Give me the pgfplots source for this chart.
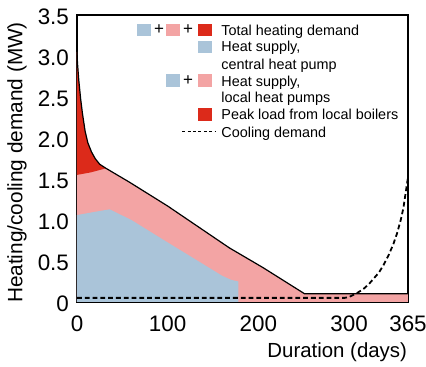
\documentclass[border=0pt]{standalone}
\usepackage{pgfplots}
\pgfplotsset{compat=1.18}
\usepackage{fontspec}
\setmainfont{Liberation Sans}
\usetikzlibrary{calc}
\definecolor{bluec}{RGB}{170,196,217}
\definecolor{pinkc}{RGB}{243,164,164}
\definecolor{redc}{RGB}{220,42,26}
\begin{document}
\begin{tikzpicture}
\begin{axis}[
  name=ax,
  scale only axis,
  width=165.5pt, height=143.5pt,
  xmin=0, xmax=365, ymin=0, ymax=3.5,
  axis line style={line width=0.6pt},
  xtick={0,100,200,300,365},
  xticklabels={0,100,200,300,365},
  ytick={0,0.5,1,1.5,2,2.5,3,3.5},
  yticklabels={0,0.5,1.0,1.5,2.0,2.5,3.0,3.5},
  major tick length=0pt,
  tick label style={font=\fontsize{11.2}{12}\selectfont},
  /pgf/number format/assume math mode=true,
  xticklabel style={yshift=-3.5pt},
  yticklabel style={xshift=-0.5pt, yshift=-0.8pt},
  ylabel={Heating/cooling demand (MW)},
  ylabel style={font=\fontsize{10.4}{12}\selectfont, at={(axis description cs:0,0.5)}, anchor=center, yshift=30pt, xshift=-2pt},
  xlabel={Duration (days)},
  xlabel style={font=\fontsize{10.2}{12}\selectfont, at={(axis description cs:1,0)}, anchor=north east, xshift=3pt, yshift=-17pt},
  clip=true,
]
% local heat pumps (pink) under total demand
\addplot[fill=pinkc, draw=none] coordinates {
(0,0)(0,3.05)(0.5,2.92)(2,2.7)(4,2.48)(6,2.3)(9,2.08)(12,1.94)(16,1.83)(20,1.75)(25,1.68)(32,1.63)(58,1.46)(100,1.17)(168,0.66)(205,0.42)(251,0.1)(365,0.1)(365,0)} -- cycle;
% peak load (red)
\addplot[fill=redc, draw=none] coordinates {
(0,1.55)(0,3.05)(0.5,2.92)(2,2.7)(4,2.48)(6,2.3)(9,2.08)(12,1.94)(16,1.83)(20,1.75)(25,1.68)(32,1.63)(15,1.58)} -- cycle;
% central heat pump (blue)
\addplot[fill=bluec, draw=none] coordinates {
(0,0)(0,1.06)(20,1.1)(36,1.13)(60,1.0)(95,0.76)(132,0.51)(160,0.32)(170,0.27)(178,0.25)(178,0)} -- cycle;
% total demand line
\addplot[black, line width=0.6pt] coordinates {
(0,3.05)(0.5,2.92)(2,2.7)(4,2.48)(6,2.3)(9,2.08)(12,1.94)(16,1.83)(20,1.75)(25,1.68)(32,1.63)(58,1.46)(100,1.17)(168,0.66)(205,0.42)(251,0.1)(365,0.1)};
% cooling demand
\addplot[black, line width=0.9pt, dash pattern=on 2.4pt off 1.5pt] coordinates {
(0,0.05)(295,0.05)(300,0.06)(309,0.11)(316,0.16)(322,0.22)(333,0.36)(338,0.45)(344,0.58)(349,0.71)(353,0.84)(357,1.0)(360,1.15)(362,1.3)(365,1.52)};

% legend
\tikzset{sw/.style={minimum width=6.8pt, minimum height=6.2pt, inner sep=0pt, anchor=east},
         lt/.style={anchor=base west, inner sep=0pt, font=\fontsize{7.2}{8}\selectfont},
         pl/.style={inner sep=0pt, font=\fontsize{8.5}{9}\selectfont}}
\node[lt] at (axis cs:158.8,3.256) {Total heating demand};
\node[lt] at (axis cs:158.8,3.049) {Heat supply,};
\node[lt] at (axis cs:158.8,2.841) {central heat pump};
\node[lt] at (axis cs:158.8,2.634) {Heat supply,};
\node[lt] at (axis cs:158.8,2.427) {local heat pumps};
\node[lt] at (axis cs:158.8,2.220) {Peak load from local boilers};
\node[lt] at (axis cs:158.8,2.012) {Cooling demand};
% row 1
\node[sw, fill=bluec] at (axis cs:81.6,3.32) {};
\node[pl] at (axis cs:90.4,3.32) {+};
\node[sw, fill=pinkc] at (axis cs:113.6,3.32) {};
\node[pl] at (axis cs:122.4,3.32) {+};
\node[sw, fill=redc] at (axis cs:148.9,3.32) {};
% row 2
\node[sw, fill=bluec] at (axis cs:148.9,3.11) {};
% row 4
\node[sw, fill=bluec] at (axis cs:113.6,2.70) {};
\node[pl] at (axis cs:122.4,2.70) {+};
\node[sw, fill=pinkc] at (axis cs:148.9,2.70) {};
% row 6
\node[sw, fill=redc] at (axis cs:148.9,2.285) {};
% row 7
\draw[black, line width=0.6pt, dash pattern=on 1.5pt off 1.2pt] (axis cs:116,2.075) -- (axis cs:152,2.075);
\end{axis}
\pgfresetboundingbox
\path ($(ax.south west)+(-38.5pt,-32.5pt)$) rectangle ($(ax.north east)+(9pt,7.5pt)$);
\end{tikzpicture}
\end{document}
